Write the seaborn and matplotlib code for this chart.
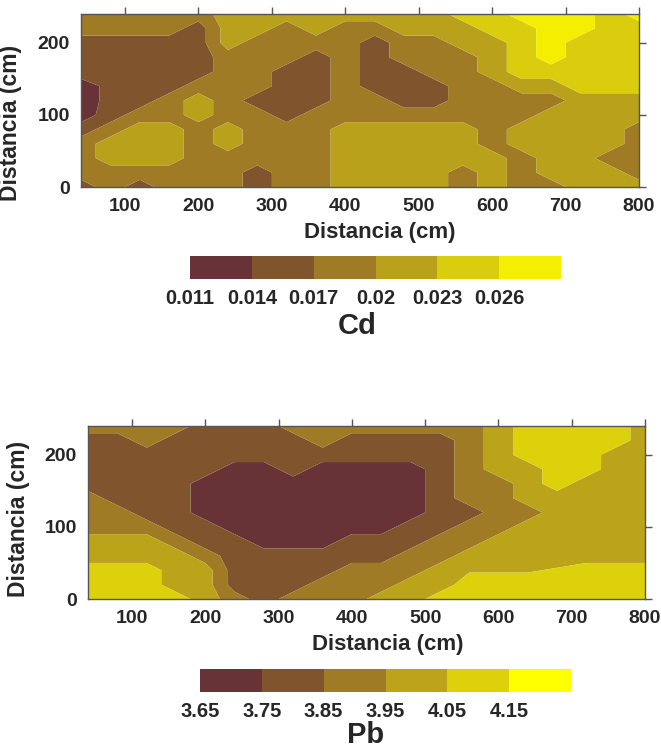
import numpy as np
import matplotlib
matplotlib.use("Agg")
import matplotlib.pyplot as plt
import seaborn as sns

sns.set_theme(style="white")
plt.rcParams['font.family'] = ['Liberation Sans', 'DejaVu Sans']
plt.rcParams['font.weight'] = 'bold'

# grid coordinates (cm)
x_cm = [40, 80, 120, 160, 200, 240, 280, 320, 360, 400,
        440, 480, 520, 560, 600, 640, 680, 720, 760, 800]
y_cm = [0, 20, 40, 60, 80, 100, 120, 140, 160, 180, 200, 220, 240]

cd_classes = [
    [1, 2, 1, 2, 2, 2, 1, 2, 2, 3, 3, 3, 3, 2, 3, 2, 2, 3, 3, 3],
    [2, 2, 2, 2, 2, 2, 1, 2, 2, 3, 3, 3, 3, 2, 3, 2, 3, 3, 3, 2],
    [2, 3, 3, 3, 2, 2, 2, 2, 2, 3, 3, 3, 3, 3, 3, 2, 3, 3, 2, 2],
    [2, 3, 3, 3, 2, 3, 2, 2, 2, 3, 3, 3, 3, 3, 2, 3, 3, 3, 3, 2],
    [1, 2, 3, 3, 2, 3, 2, 2, 2, 3, 3, 3, 3, 3, 2, 3, 3, 3, 3, 2],
    [0, 1, 2, 2, 3, 2, 2, 1, 2, 2, 2, 2, 2, 2, 2, 2, 3, 3, 3, 3],
    [0, 0.8, 1, 2, 3, 2, 1, 1, 1, 2, 2, 1, 1, 2, 2, 2, 2, 3, 3, 3],
    [0, 0.8, 1, 1, 2, 2, 2, 1, 1, 2, 1, 1, 1, 2, 2, 3, 3, 4, 4, 4],
    [1, 1, 1, 1, 1, 2, 2, 1, 1, 2, 1, 1, 2, 2, 3, 4, 4, 4, 4, 4],
    [1, 1, 1, 1, 1, 2, 2, 2, 1, 2, 1, 2, 2, 2, 3, 4, 5, 4, 4, 4],
    [1, 1, 1, 1, 1, 3, 2, 2, 2, 2, 1, 2, 2, 3, 3, 4, 5, 4, 4, 4],
    [2, 2, 2, 2, 1, 3, 3, 2, 3, 2, 2, 3, 3, 3, 4, 4, 5, 5, 4, 4],
    [2, 2, 2, 2, 2, 3, 3, 3, 3, 3, 3, 3, 3, 4, 4, 5, 5, 5, 4, 5],
]

pb_classes = [
    [4, 4, 4, 4, 3, 2, 1, 2, 2, 2, 3, 3, 4, 4, 4, 4, 4, 4, 4, 4],
    [4, 4, 4, 3, 3, 1, 1, 1, 2, 2, 2, 3, 3, 4, 4, 4, 4, 4, 4, 4],
    [4, 4, 4, 3, 3, 1, 1, 1, 1, 2, 2, 2, 3, 3.4, 3.4, 3.4, 3.6, 4, 4, 4],
    [3, 3, 3, 3, 2, 1, 1, 1, 1, 1, 1, 2, 2, 3, 3, 3, 3, 3, 3, 3],
    [3, 3, 3, 2, 1, 1, 0, 0, 0, 1, 1, 1, 2, 2, 3, 3, 3, 3, 3, 3],
    [2, 2, 2, 1, 1, 0, 0, 0, 0, 0, 0, 1, 1, 2, 2, 3, 3, 3, 3, 3],
    [2, 2, 1, 1, 0, 0, 0, 0, 0, 0, 0, 0, 1, 1, 2, 2, 3, 3, 3, 3],
    [2, 1, 1, 1, 0, 0, 0, 0, 0, 0, 0, 0, 1, 2, 2, 3, 3, 3, 3, 3],
    [1, 1, 1, 1, 0, 0, 0, 0, 0, 0, 0, 0, 1, 2, 2, 3, 4, 3, 3, 3],
    [1, 1, 1, 1, 1, 0, 0, 1, 0, 0, 0, 0, 1, 2, 3, 3, 4, 4, 3, 3],
    [1, 1, 1, 1, 1, 1, 1, 1, 1, 1, 1, 1, 1, 2, 3, 4, 4, 4, 3, 3],
    [1, 1, 2, 1, 1, 1, 1, 1, 2, 1, 1, 1, 1, 2, 3, 4, 4, 4, 4, 3],
    [2, 2, 2, 2, 1, 1, 1, 2, 2, 2, 2, 2, 2, 2, 3, 4, 4, 4, 4, 3],
]

cd_levels = [0.011, 0.014, 0.017, 0.020, 0.023, 0.026, 0.029]
cd_ticklabels = ['0.011', '0.014', '0.017', '0.02', '0.023', '0.026']

pb_levels = [3.65, 3.75, 3.85, 3.95, 4.05, 4.15, 4.25]
pb_ticklabels = ['3.65', '3.75', '3.85', '3.95', '4.05', '4.15']

cd_colors = sns.color_palette(['#683336', '#80552e', '#9e7b24', '#b9a11c', '#dacd0e', '#f4ef00'])
pb_colors = sns.color_palette(['#673336', '#80552e', '#9e7b24', '#bca41a', '#ddd10b', '#ffff00'])

W, H = 661, 751
fig = plt.figure(figsize=(W / 100, H / 100), dpi=100)


def px_axes(l, t, r, b):
    return fig.add_axes([l / W, (H - b) / H, (r - l) / W, (b - t) / H])


def draw_map(ax, cax, classes, levels, colors, ticklabels,
             name, name_xy, xlabel_x, ylabel_y):
    step = levels[1] - levels[0]
    # class position -> value inside that class band
    Z = np.round(levels[0] + step * (np.array(classes, dtype=float) + 0.5), 6)
    X, Y = np.meshgrid(x_cm, y_cm)
    cf = ax.contourf(X, Y, Z, levels=levels, colors=colors, antialiased=True)
    ax.set_xlim(40, 800)
    ax.set_ylim(0, 240)
    ax.set_xticks([100, 200, 300, 400, 500, 600, 700, 800])
    ax.set_yticks([0, 100, 200])
    ax.tick_params(direction='out', length=5, width=1, color='#555555',
                   top=True, right=True, labeltop=False, labelright=False,
                   labelsize=14, pad=3)
    for lab in ax.get_xticklabels() + ax.get_yticklabels():
        lab.set_fontweight('bold')
    for s in ax.spines.values():
        s.set_color('#555555')
        s.set_linewidth(1)
    ax.set_xlabel('Distancia (cm)', fontsize=16, fontweight='bold')
    ax.set_ylabel('Distancia (cm)', fontsize=16.5, fontweight='bold')
    ax.xaxis.set_label_coords(xlabel_x, -0.2)
    ax.yaxis.set_label_coords(-0.105, ylabel_y)

    cb = fig.colorbar(cf, cax=cax, orientation='horizontal', ticks=levels[:-1])
    cb.outline.set_visible(False)
    cb.ax.set_xticklabels(ticklabels)
    cb.ax.tick_params(length=0, labelsize=14.5, pad=7)
    for lab in cb.ax.get_xticklabels():
        lab.set_fontweight('bold')
    fig.text(name_xy[0] / W, 1 - name_xy[1] / H, name, fontsize=21,
             fontweight='bold', ha='center', va='center')


ax1 = px_axes(81, 14, 639, 187)
cax1 = px_axes(190, 256, 561, 279)
draw_map(ax1, cax1, cd_classes, cd_levels, cd_colors,
         cd_ticklabels, 'Cd', (357, 326), 0.536, 0.37)

ax2 = px_axes(88, 426, 645, 599)
cax2 = px_axes(200, 669, 571, 692)
draw_map(ax2, cax2, pb_classes, pb_levels, pb_colors,
         pb_ticklabels, 'Pb', (366, 735), 0.539, 0.46)

fig.savefig('out.png', dpi=100)
